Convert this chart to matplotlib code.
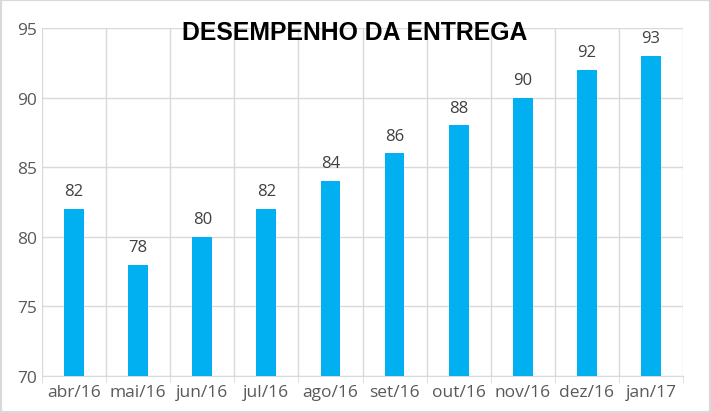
import matplotlib
matplotlib.use("Agg")
import matplotlib.pyplot as plt
import numpy as np

months = ["abr/16", "mai/16", "jun/16", "jul/16", "ago/16", "set/16", "out/16", "nov/16", "dez/16", "jan/17"]
values = [82, 78, 80, 82, 84, 86, 88, 90, 92, 93]
title = "DESEMPENHO DA ENTREGA"

plt.rcParams['font.family'] = ['Open Sans', 'DejaVu Sans']

fig = plt.figure(figsize=(7.11, 4.14), dpi=100)
ax = fig.add_axes([42/711, 1-377/414, (683-42)/711, (377-29)/414])

x = np.arange(len(months))
ax.bar(x, values, width=0.31, color="#00B0F0", zorder=3)
for xi, v in zip(x, values):
    ax.text(xi, v + 0.7, str(v), ha="center", va="bottom", fontsize=12, color="#404040")

ax.set_ylim(70, 95)
ax.set_xlim(-0.5, len(months) - 0.5)
ax.set_yticks([70, 75, 80, 85, 90, 95])
ax.set_xticks(x)
ax.set_xticklabels(months)
ax.set_xticks(np.arange(-0.5, len(months)), minor=True)
ax.grid(True, axis="y", color="#D9D9D9", lw=1, zorder=0)
ax.grid(True, axis="x", which="minor", color="#D9D9D9", lw=1, zorder=0)
ax.tick_params(axis="both", which="major", labelsize=12.5, labelcolor="#595959", length=0)
ax.tick_params(axis="x", which="minor", length=5, color="#D9D9D9")
ax.tick_params(axis="x", pad=6)
for s in ["top", "right", "left"]:
    ax.spines[s].set_visible(False)
ax.spines["bottom"].set_color("#D9D9D9")

fig.text(355/711, 1-33/414, title, ha="center", va="center", fontsize=17.8,
         fontweight="bold", family="Liberation Sans", color="black")

fig.patches.append(plt.Rectangle((0, 0), 1, 1, transform=fig.transFigure, fill=False,
                                 edgecolor="#D9D9D9", lw=3))

fig.savefig("out.png", dpi=100)
